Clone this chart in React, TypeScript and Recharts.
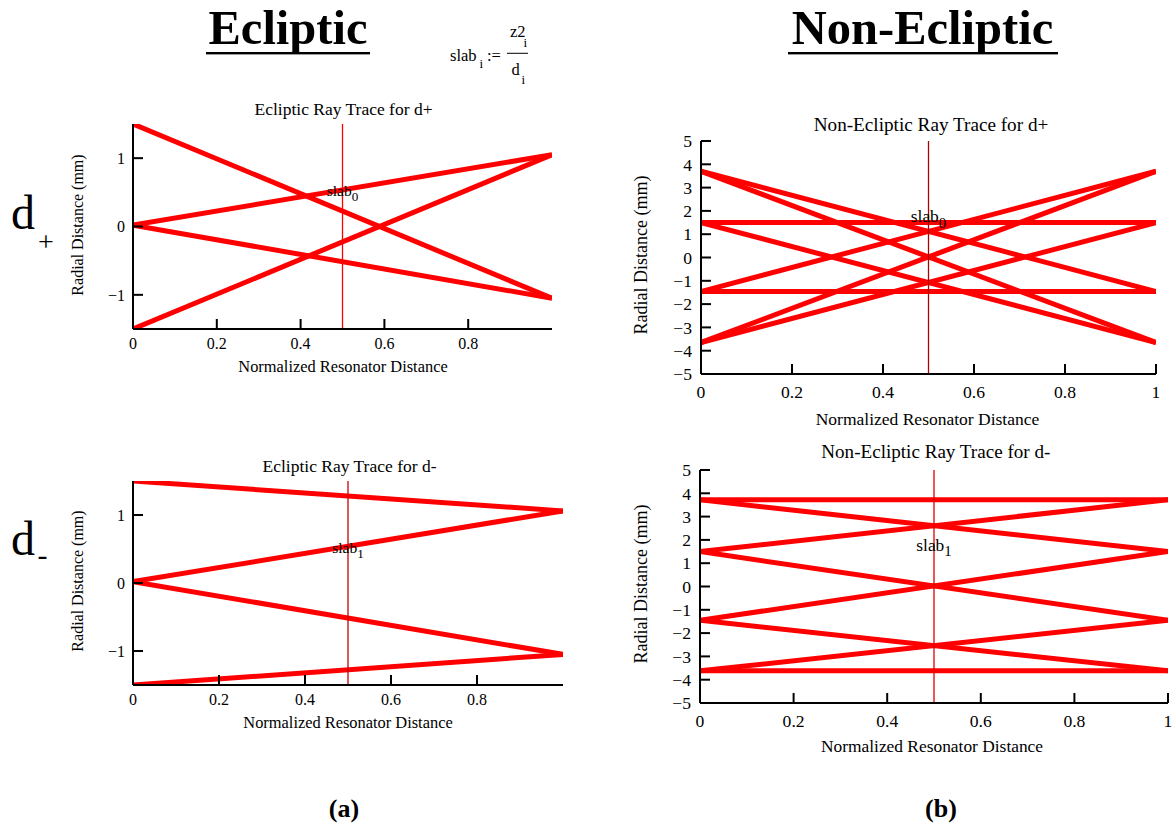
import React from 'react';
import { LineChart, Line, XAxis, YAxis, ReferenceLine, ReferenceDot } from 'recharts';

const SERIF = 'Liberation Serif, Times New Roman, serif';
const RED = '#ff0000';

// normalized resonator distance of ray start / end
const rayX = [0, 1];

// Ecliptic d+ : radial distance at start and end of each ray
const eclPlusStart = [1.5, 0.02, 0.02, -1.5];
const eclPlusEnd = [-1.05, 1.05, -1.05, 1.05];

// Ecliptic d-
const eclMinusStart = [1.5, 0.02, 0.02, -1.5];
const eclMinusEnd = [1.06, 1.06, -1.05, -1.05];

// Non-Ecliptic d+
const nonPlusStart = [3.7, 3.7, 1.5, 1.5, -1.46, -1.46, -3.65, -3.65];
const nonPlusEnd = [-1.46, -3.65, -3.65, 1.5, 3.7, -1.46, 3.7, 1.5];

// Non-Ecliptic d-
const nonMinusStart = [3.72, 3.72, 1.5, 1.5, -1.45, -1.45, -3.62, -3.62];
const nonMinusEnd = [3.72, 1.5, 3.72, -1.45, 1.5, -3.62, -1.45, -3.62];

// axes
const xDomain = [0, 1];
const eclXTicks = [0, 0.2, 0.4, 0.6, 0.8];
const nonXTicks = [0, 0.2, 0.4, 0.6, 0.8, 1];
const eclYTicks = [-1, 0, 1];
const nonYTicks = [-5, -4, -3, -2, -1, 0, 1, 2, 3, 4, 5];
const eclYDomain = [-1.5, 1.5];
const nonYDomain = [-5, 5];

// slab marker
const slabX = 0.5;
const slabLabelEclPlusY = 0.51;
const slabLabelEclMinusY = 0.51;
const slabLabelNonPlusY = 1.73;
const slabLabelNonMinusY = 1.76;

const fmt = (v: number) => String(v).replace('-', '\u2212');

type ChartProps = {
  plotL: number; plotT: number; plotW: number; plotH: number;
  yAxisW: number; xAxisH: number; marginTop: number; marginRight: number;
  starts: number[]; ends: number[];
  xTicks: number[]; yTicks: number[]; yDomain: number[];
  fontSize: number; tmX: number; tmY: number;
  slabY: number; slabSub: string; slabFont: number; refColor: string;
};

function RayChart(p: ChartProps) {
  const width = p.yAxisW + p.plotW + p.marginRight;
  const height = p.marginTop + p.plotH + p.xAxisH;
  const axisStyle = { stroke: '#000', strokeWidth: 2 };
  const tickStyle = { fontFamily: SERIF, fontSize: p.fontSize, fill: '#000' };
  return (
    <div style={{ position: 'absolute', left: p.plotL - p.yAxisW, top: p.plotT - p.marginTop }}>
      <LineChart width={width} height={height} margin={{ top: p.marginTop, right: p.marginRight, bottom: 0, left: 0 }}>
        <XAxis xAxisId={0} type="number" dataKey="x" domain={xDomain} ticks={p.xTicks} allowDataOverflow
          height={p.xAxisH} axisLine={axisStyle} tickLine={axisStyle} tickSize={-10} tickMargin={p.tmX}
          tick={tickStyle} tickFormatter={fmt} interval={0} />
        <XAxis xAxisId="top" orientation="top" type="number" dataKey="x" domain={xDomain} ticks={p.xTicks} allowDataOverflow
          height={0} axisLine={axisStyle} tickLine={axisStyle} tickSize={-10} tick={false} interval={0} />
        <YAxis yAxisId={0} type="number" dataKey="y" domain={p.yDomain} ticks={p.yTicks} allowDataOverflow
          width={p.yAxisW} axisLine={axisStyle} tickLine={axisStyle} tickSize={-10} tickMargin={p.tmY}
          tick={tickStyle} tickFormatter={fmt} interval={0} />
        <YAxis yAxisId="right" orientation="right" type="number" dataKey="y" domain={p.yDomain} ticks={p.yTicks} allowDataOverflow
          width={0} axisLine={axisStyle} tickLine={axisStyle} tickSize={-10} tick={false} interval={0} />
        {p.starts.map((s, i) => (
          <Line key={i} data={[{ x: rayX[0], y: s }, { x: rayX[1], y: p.ends[i] }]} dataKey="y"
            xAxisId={0} yAxisId={0} stroke={RED} strokeWidth={5} dot={false} activeDot={false}
            isAnimationActive={false} legendType="none" />
        ))}
        <ReferenceLine x={slabX} xAxisId={0} yAxisId={0} stroke={p.refColor} strokeWidth={1.3} />
        <ReferenceDot x={slabX} y={p.slabY} xAxisId={0} yAxisId={0} r={1}
          shape={(sp: any) => (
            <text x={sp.cx} y={sp.cy + p.slabFont * 0.3} textAnchor="middle" fontFamily={SERIF} fontSize={p.slabFont} fill="#000">
              slab<tspan fontSize={p.slabFont * 0.85} dy={p.slabFont * 0.3}>{p.slabSub}</tspan>
            </text>
          )} />
      </LineChart>
    </div>
  );
}

function Overlay() {
  const t = { fontFamily: SERIF, fill: '#000' };
  const ylab = (x: number, y: number, fs: number) => (
    <text transform={`translate(${x},${y}) rotate(-90)`} textAnchor="middle" fontSize={fs} {...t}>Radial Distance (mm)</text>
  );
  return (
    <svg width={1175} height={830} style={{ position: 'absolute', left: 0, top: 0, pointerEvents: 'none' }}>
      {/* column headings */}
      <text x={288} y={43.5} textAnchor="middle" fontSize={48.5} fontWeight="bold" {...t}>Ecliptic</text>
      <rect x={206} y={52} width={164} height={2.4} fill="#000" />
      <text x={922.5} y={43.5} textAnchor="middle" fontSize={48.5} fontWeight="bold" {...t}>Non-Ecliptic</text>
      <rect x={788} y={52} width={270} height={2.4} fill="#000" />

      {/* formula */}
      <text x={450} y={61} fontSize={16.5} {...t}>slab</text>
      <text x={479.5} y={68} fontSize={13} {...t}>i</text>
      <text x={487} y={61} fontSize={16.5} {...t}>:=</text>
      <text x={510} y={37} fontSize={16.5} {...t}>z2</text>
      <text x={523.5} y={46.5} fontSize={13} {...t}>i</text>
      <rect x={507} y={52.8} width={21} height={1} fill="#000" />
      <text x={511.5} y={75} fontSize={16.5} {...t}>d</text>
      <text x={521.5} y={84} fontSize={13} {...t}>i</text>

      {/* row labels */}
      <text x={11} y={229} fontSize={48} {...t}>d</text>
      <text x={38} y={251} fontSize={28} {...t}>+</text>
      <text x={11} y={555} fontSize={48} {...t}>d</text>
      <text x={37.5} y={565} fontSize={30} {...t}>-</text>

      {/* chart titles */}
      <text x={343.5} y={115} textAnchor="middle" fontSize={17.5} {...t}>Ecliptic Ray Trace for d+</text>
      <text x={349.5} y={471.5} textAnchor="middle" fontSize={17.5} {...t}>Ecliptic Ray Trace for d-</text>
      <text x={931} y={130.5} textAnchor="middle" fontSize={19.2} {...t}>Non-Ecliptic Ray Trace for d+</text>
      <text x={935.8} y={458} textAnchor="middle" fontSize={19.1} {...t}>Non-Ecliptic Ray Trace for d-</text>

      {/* x axis labels */}
      <text x={343} y={372} textAnchor="middle" fontSize={16.4} {...t}>Normalized Resonator Distance</text>
      <text x={348} y={728} textAnchor="middle" fontSize={16.4} {...t}>Normalized Resonator Distance</text>
      <text x={927.5} y={424.5} textAnchor="middle" fontSize={17.5} {...t}>Normalized Resonator Distance</text>
      <text x={932} y={752} textAnchor="middle" fontSize={17.4} {...t}>Normalized Resonator Distance</text>

      {/* y axis labels */}
      {ylab(83, 225, 16)}
      {ylab(83, 581, 16)}
      {ylab(647, 255, 18)}
      {ylab(647, 584, 18)}

      {/* panel captions */}
      <text x={344} y={817} textAnchor="middle" fontSize={26} fontWeight="bold" {...t}>(a)</text>
      <text x={941} y={817} textAnchor="middle" fontSize={26} fontWeight="bold" {...t}>(b)</text>
    </svg>
  );
}

export default function App() {
  return (
    <div style={{ position: 'absolute', left: 0, top: 0, width: 1175, height: 830, background: '#fff', overflow: 'hidden', fontFamily: SERIF }}>
      <RayChart plotL={133} plotT={124} plotW={419} plotH={205} yAxisW={60} xAxisH={30} marginTop={14} marginRight={8}
        starts={eclPlusStart} ends={eclPlusEnd} xTicks={eclXTicks} yTicks={eclYTicks} yDomain={eclYDomain}
        fontSize={16} tmX={19} tmY={18} slabY={slabLabelEclPlusY} slabSub="0" slabFont={15.5} refColor="#ff0000" />
      <RayChart plotL={133} plotT={481} plotW={430} plotH={204} yAxisW={60} xAxisH={30} marginTop={14} marginRight={8}
        starts={eclMinusStart} ends={eclMinusEnd} xTicks={eclXTicks} yTicks={eclYTicks} yDomain={eclYDomain}
        fontSize={16} tmX={19} tmY={18} slabY={slabLabelEclMinusY} slabSub="1" slabFont={15.5} refColor="#cc0000" />
      <RayChart plotL={701} plotT={141} plotW={455} plotH={233} yAxisW={60} xAxisH={32} marginTop={14} marginRight={10}
        starts={nonPlusStart} ends={nonPlusEnd} xTicks={nonXTicks} yTicks={nonYTicks} yDomain={nonYDomain}
        fontSize={17.6} tmX={22} tmY={19} slabY={slabLabelNonPlusY} slabSub="0" slabFont={17.4} refColor="#b00000" />
      <RayChart plotL={700} plotT={470} plotW={468} plotH={233} yAxisW={60} xAxisH={32} marginTop={14} marginRight={7}
        starts={nonMinusStart} ends={nonMinusEnd} xTicks={nonXTicks} yTicks={nonYTicks} yDomain={nonYDomain}
        fontSize={17.6} tmX={21.5} tmY={19} slabY={slabLabelNonMinusY} slabSub="1" slabFont={17.4} refColor="#dd0000" />
      <Overlay />
    </div>
  );
}
